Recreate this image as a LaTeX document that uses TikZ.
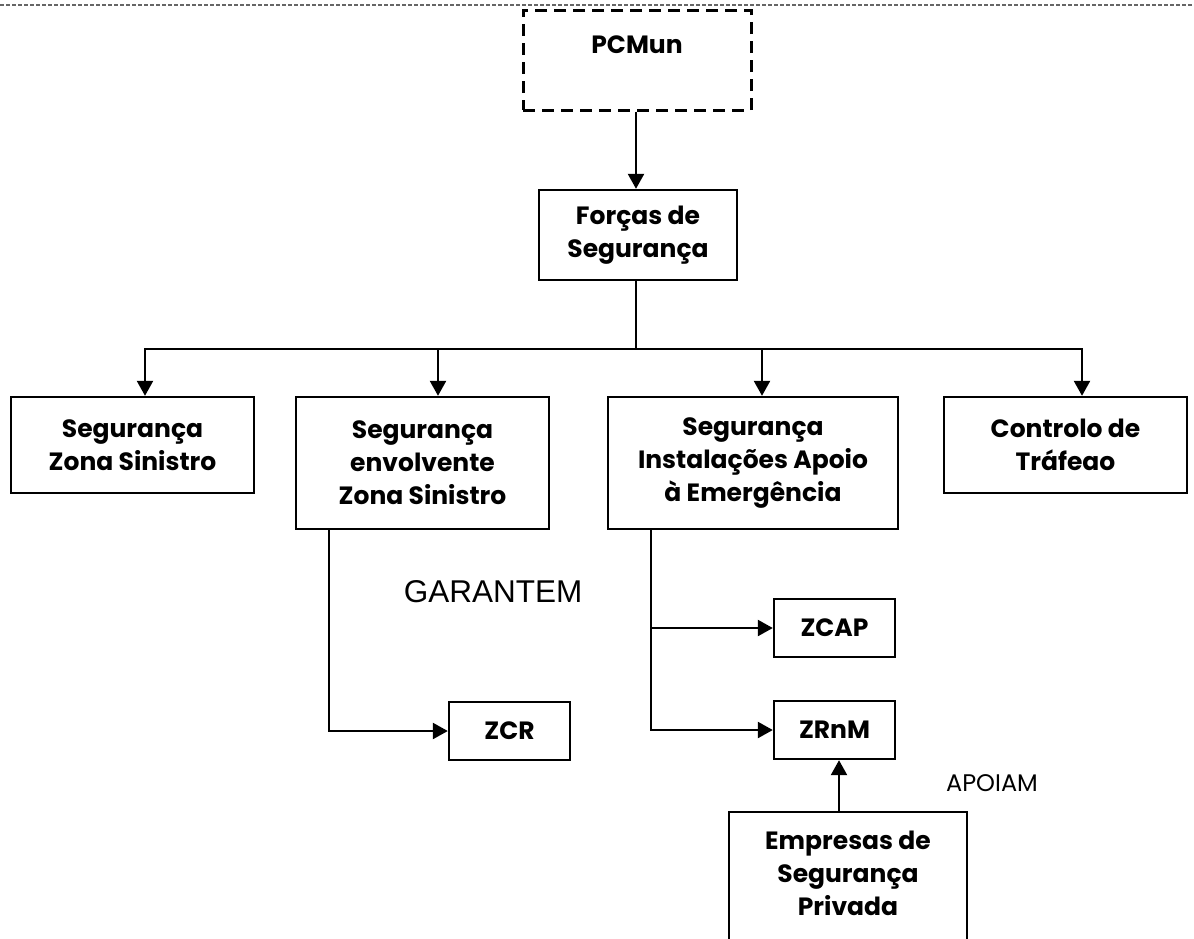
\documentclass[tikz,border=0pt]{standalone}
\usepackage{fontspec}
\setmainfont{Poppins}
\newfontfamily\arialfont{Liberation Sans}
\usetikzlibrary{arrows.meta}

\tikzset{
  box/.style={draw, line width=2.4pt, align=center, inner sep=0pt,
    font=\bfseries\fontsize{25}{33}\selectfont},
  dashbox/.style={box, dashed, line width=3pt, dash pattern=on 12pt off 7pt},
  link/.style={line width=2.4pt},
  arr/.style={link, -{Triangle[length=15pt,width=16pt]}},
  note/.style={inner sep=0pt}
}

\begin{document}
\begin{tikzpicture}[x=1pt,y=-1pt]
\clip (0,0) rectangle (1194,938);
\useasboundingbox (0,0) rectangle (1194,938);

% page header rule
\draw[gray!80!black, line width=1.8pt, dash pattern=on 4pt off 2pt] (0,5) -- (1194,5);

% command post and security forces
\node[dashbox, minimum width=228pt, minimum height=100pt, text depth=30pt] (pcm) at (637,60) {PCMun};
\node[box, minimum width=198pt, minimum height=90pt] (fs) at (638,235) {Forças de\\Segurança};

% four missions
\node[box, minimum width=243pt, minimum height=96pt] (s1) at (132.5,445) {Segurança\\Zona Sinistro};
\node[box, minimum width=253pt, minimum height=132pt] (s2) at (422.5,463) {Segurança\\envolvente\\Zona Sinistro};
\node[box, minimum width=290pt, minimum height=132pt] (s3) at (753,463) {Segurança\\Instalações Apoio\\à Emergência};
\node[box, minimum width=243pt, minimum height=96pt] (s4) at (1065.5,445) {Controlo de\\Tráfeao};

% zones
\node[box, minimum width=121pt, minimum height=58pt] (zcr) at (509.5,731) {ZCR};
\node[box, minimum width=121pt, minimum height=58pt] (zcap) at (834.5,628) {ZCAP};
\node[box, minimum width=121pt, minimum height=58pt] (zrnm) at (834.5,730) {ZRnM};
\node[box, minimum width=238pt, minimum height=140pt, text depth=18pt] (esp) at (848,882) {Empresas de\\Segurança\\Privada};

% labels
\node[note, font=\arialfont\fontsize{31.5}{36}\selectfont] (gar) at (493,592) {GARANTEM};
\node[note, font=\fontsize{24}{28}\selectfont] (apo) at (992,783) {APOIAM};

% connectors
\coordinate (bus) at (636,349);
\draw[arr] (pcm.south -| 636,0) -- (fs.north -| 636,0);
\draw[link] (fs.south -| 636,0) -- (bus);
\draw[arr] (bus) -| (s1.north -| 145,0);
\draw[arr] (bus) -| (s2.north -| 438,0);
\draw[arr] (bus) -| (s3.north -| 762,0);
\draw[arr] (bus) -| (s4.north -| 1082,0);

\draw[arr] (s2.south -| 329,0) |- (zcr.west);
\draw[arr] (s3.south -| 651,0) |- (zcap.west);
\draw[arr] (s3.south -| 651,0) |- (zrnm.west);
\draw[arr] (esp.north -| 839,0) -- (zrnm.south -| 839,0);
\end{tikzpicture}
\end{document}
